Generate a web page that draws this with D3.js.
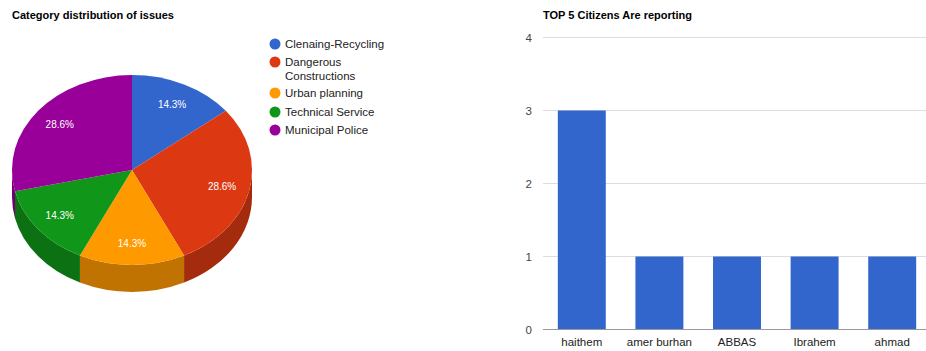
<!DOCTYPE html>
<html><head><meta charset="utf-8">
<script src="https://cdn.jsdelivr.net/npm/d3@7"></script>
<style>html,body{margin:0;padding:0;background:#fff;}svg{display:block;font-family:"Liberation Sans",Arial,sans-serif;}</style>
</head><body>
<svg id="c" width="926" height="351"></svg>
<script>
// ---- data ----
const pieCategories = ["Clenaing-Recycling", "Dangerous Constructions", "Urban planning", "Technical Service", "Municipal Police"];
const pieValues = [1, 2, 1, 1, 2];
const pieColors = ["#3366cc", "#dc3912", "#ff9900", "#109618", "#990099"];
const pieSideColors = ["#264c99", "#a52b0e", "#c07300", "#0c7112", "#730073"];
const legendLines = [["Clenaing-Recycling"], ["Dangerous", "Constructions"], ["Urban planning"], ["Technical Service"], ["Municipal Police"]];

const barCategories = ["haithem", "amer burhan", "ABBAS", "Ibrahem", "ahmad"];
const barValues = [3, 1, 1, 1, 1];
const barTicks = [0, 1, 2, 3, 4];

const svg = d3.select("#c");

// ---- titles ----
svg.append("text").attr("x", 12).attr("y", 19).attr("font-size", 11).attr("font-weight", "bold").attr("fill", "#000").text("Category distribution of issues");
svg.append("text").attr("x", 543).attr("y", 19).attr("font-size", 11).attr("font-weight", "bold").attr("fill", "#000").text("TOP 5 Citizens Are reporting");

// ---- 3D pie ----
const cx = 132, cy = 170, rx = 120, ry = 95, depth = 27;
const k = ry / rx;
const depthS = depth / k;
const pie = d3.pie().sort(null).value(d => d)(pieValues);
const g = svg.append("g").attr("transform", `translate(${cx},${cy}) scale(1,${k})`);

// side walls (front half: angles from PI/2 to 3PI/2 measured clockwise from top)
const sideG = g.append("g");
pie.forEach((s, i) => {
  const a0 = Math.max(s.startAngle, Math.PI / 2);
  const a1 = Math.min(s.endAngle, 3 * Math.PI / 2);
  if (a1 <= a0) return;
  const p = d3.path();
  const t0 = a0 - Math.PI / 2, t1 = a1 - Math.PI / 2;
  p.moveTo(rx * Math.cos(t0), rx * Math.sin(t0));
  p.arc(0, 0, rx, t0, t1, false);
  p.lineTo(rx * Math.cos(t1), rx * Math.sin(t1) + depthS);
  p.arc(0, depthS, rx, t1, t0, true);
  p.closePath();
  sideG.append("path").attr("d", p.toString()).attr("fill", pieSideColors[i]);
});

const arc = d3.arc().innerRadius(0).outerRadius(rx);
g.selectAll("path.slice").data(pie).join("path").attr("class", "slice")
  .attr("d", arc).attr("fill", (d, i) => pieColors[i]);

const total = d3.sum(pieValues);
const fmt = d3.format(".1%");
svg.append("g").selectAll("text").data(pie).join("text")
  .attr("x", d => { const m = (d.startAngle + d.endAngle) / 2; return cx + Math.sin(m) * rx * 0.77; })
  .attr("y", d => { const m = (d.startAngle + d.endAngle) / 2; return cy - Math.cos(m) * ry * 0.77; })
  .attr("dy", "0.35em").attr("text-anchor", "middle").attr("font-size", 10).attr("fill", "#fff")
  .text(d => fmt(d.value / total));

// legend
const lg = svg.append("g");
const rowY = [44, 62, 93, 112, 130];
legendLines.forEach((lines, i) => {
  lg.append("circle").attr("cx", 275).attr("cy", rowY[i]).attr("r", 5.5).attr("fill", pieColors[i]);
  lines.forEach((ln, j) => {
    lg.append("text").attr("x", 285).attr("y", rowY[i] + j * 14).attr("dy", "0.35em")
      .attr("font-size", 11.5).attr("fill", "#222").text(ln);
  });
});

// ---- bar chart ----
const x = d3.scaleBand().domain(barCategories).range([543, 931]).paddingInner(0.382).paddingOuter(0.191);
const y = d3.scaleLinear().domain([0, 4]).range([329.5, 37.5]);

const bg = svg.append("g");
bg.selectAll("line.grid").data(barTicks.filter(t => t > 0)).join("line").attr("class", "grid")
  .attr("x1", 543).attr("x2", 926).attr("y1", d => y(d)).attr("y2", d => y(d))
  .attr("stroke", "#ddd").attr("stroke-width", 1);

bg.selectAll("rect").data(barValues).join("rect")
  .attr("x", (d, i) => x(barCategories[i])).attr("width", x.bandwidth())
  .attr("y", d => y(d)).attr("height", d => y(0) - y(d)).attr("fill", "#3366cc");

bg.append("line").attr("x1", 543).attr("x2", 926).attr("y1", y(0)).attr("y2", y(0)).attr("stroke", "#999").attr("stroke-width", 1.2);

bg.selectAll("text.yl").data(barTicks).join("text").attr("class", "yl")
  .attr("x", 532).attr("y", d => y(d)).attr("dy", "0.35em").attr("text-anchor", "end")
  .attr("font-size", 11.5).attr("fill", "#444").text(d => d);

bg.selectAll("text.xl").data(barCategories).join("text").attr("class", "xl")
  .attr("x", d => x(d) + x.bandwidth() / 2).attr("y", 342).attr("dy", "0.35em").attr("text-anchor", "middle")
  .attr("font-size", 11.5).attr("fill", "#222").text(d => d);
</script>
</body></html>
